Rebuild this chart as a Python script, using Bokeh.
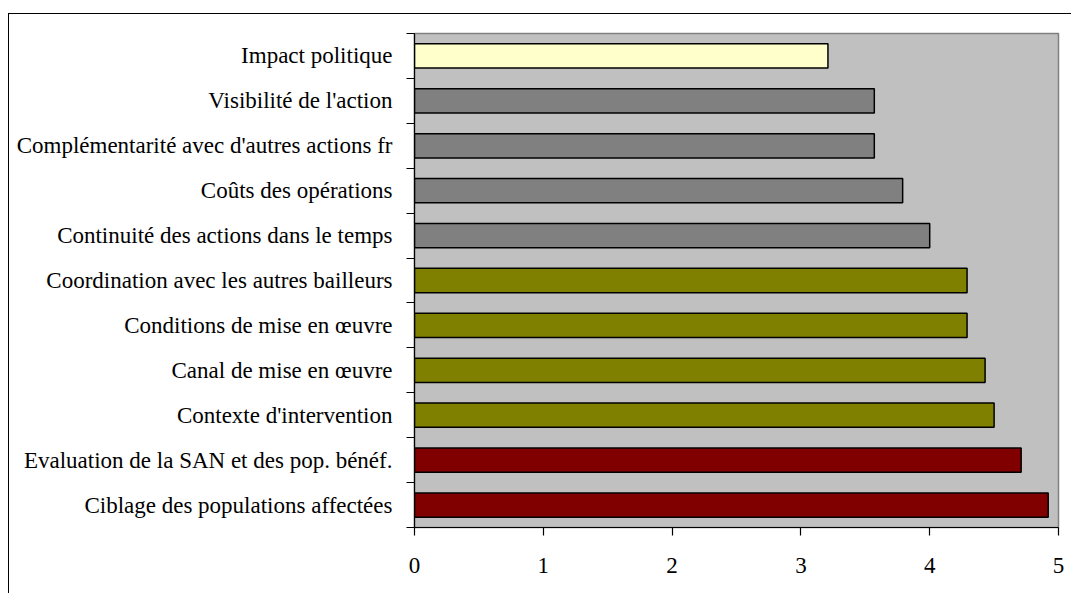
from bokeh.plotting import figure
from bokeh.models import Range1d, FixedTicker
from bokeh.embed import file_html
from bokeh.resources import INLINE

# Categories listed bottom to top
categories = [
    "Ciblage des populations affectées",
    "Evaluation de la SAN et des pop. bénéf.",
    "Contexte d'intervention",
    "Canal de mise en œuvre",
    "Conditions de mise en œuvre",
    "Coordination avec les autres bailleurs",
    "Continuité des actions dans le temps",
    "Coûts des opérations",
    "Complémentarité avec d'autres actions fr",
    "Visibilité de l'action",
    "Impact politique",
]
values = [4.92, 4.71, 4.50, 4.43, 4.29, 4.29, 4.00, 3.79, 3.57, 3.57, 3.21]
bar_colors = ["#800000", "#800000", "#808000", "#808000", "#808000", "#808000",
              "#808080", "#808080", "#808080", "#808080", "#FFFFCC"]
x_ticks = [0, 1, 2, 3, 4, 5]

n = len(categories)
centers = [i + 0.5 for i in range(n)]

p = figure(width=1063, height=580, output_backend="svg", toolbar_location=None,
           x_range=Range1d(0, 5), y_range=Range1d(0, n),
           min_border_left=405, min_border_right=14, min_border_top=19, min_border_bottom=67)
p.styles = {"margin-top": "13px", "margin-left": "8px",
            "border-top": "1px solid #000000", "border-left": "1px solid #000000"}

p.background_fill_color = "#C0C0C0"
p.border_fill_color = "#FFFFFF"
p.outline_line_color = "#808080"
p.outline_line_width = 1.5
p.xgrid.visible = False
p.ygrid.visible = False

p.hbar(y=centers, left=0, right=values, height=0.54, fill_color=bar_colors,
       line_color="#000000", line_width=1.5)

# y axis: labels at band centres, ticks at band boundaries
yax = p.yaxis[0]
yax.ticker = FixedTicker(ticks=centers, minor_ticks=list(range(n + 1)))
yax.major_label_overrides = {c: lab for c, lab in zip(centers, categories)}
yax.major_tick_out = 0
yax.major_tick_in = 0
yax.minor_tick_out = 8
yax.minor_tick_in = 0
yax.minor_tick_line_color = "#000000"
yax.minor_tick_line_width = 1.2
yax.axis_line_color = "#000000"
yax.axis_line_width = 1.2
yax.major_label_standoff = 14
yax.major_label_text_font = "Liberation Serif"
yax.major_label_text_font_size = "23px"
yax.major_label_text_color = "#000000"

xax = p.xaxis[0]
xax.ticker = FixedTicker(ticks=x_ticks, minor_ticks=[])
xax.major_tick_out = 8
xax.major_tick_in = 0
xax.major_tick_line_color = "#000000"
xax.major_tick_line_width = 1.2
xax.axis_line_color = "#000000"
xax.axis_line_width = 1.2
xax.major_label_standoff = 22
xax.major_label_text_font = "Liberation Serif"
xax.major_label_text_font_size = "23px"
xax.major_label_text_color = "#000000"

open("out.html", "w").write(file_html(p, INLINE))
